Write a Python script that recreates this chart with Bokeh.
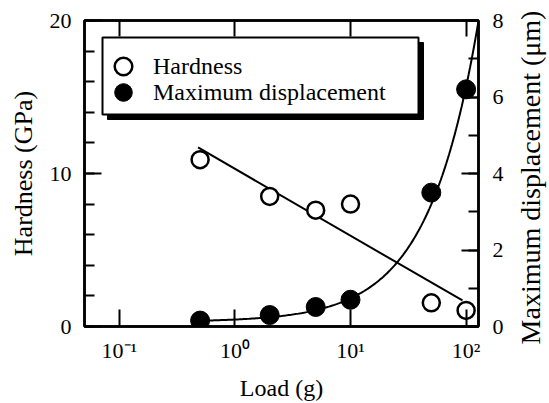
import math
import numpy as np
from bokeh.plotting import figure
from bokeh.models import (Range1d, LinearAxis, LogAxis, FixedTicker, SingleIntervalTicker,
                          CustomJSTickFormatter, Legend, LegendItem, BoxAnnotation, Label,
                          ColumnDataSource)
from bokeh.embed import file_html
from bokeh.resources import INLINE

# ---- data ----
load = [0.5, 2, 5, 10, 50, 100]
hardness = [10.9, 8.5, 7.6, 8.0, 1.55, 1.05]
displacement = [0.155, 0.30, 0.51, 0.70, 3.5, 6.2]

# fitted lines
hard_fit_load = [0.48, 93]
hard_fit_value = [11.7, 1.7]
disp_fit_intercept = 0.12
disp_fit_slope = 0.0615
disp_fit_range = [0.5, 128]

x_ticks = [0.1, 1, 10, 100]

FONT = "Liberation Serif"

FRAME_H = 309
p = figure(width=549, height=403, x_axis_type="log",
           x_range=Range1d(0.05, 128), y_range=Range1d(0, 20),
           output_backend="svg", toolbar_location=None,
           min_border_left=84, min_border_right=71, min_border_top=20, min_border_bottom=74)
p.extra_y_ranges = {"disp": Range1d(0, 8)}
p.grid.visible = False
p.outline_line_color = "black"
p.outline_line_width = 2.5
p.background_fill_color = "white"
p.border_fill_color = "white"

sup_code = """
const sup = {"-":"\u207b","0":"\u2070","1":"\u00b9","2":"\u00b2","3":"\u00b3","4":"\u2074",
             "5":"\u2075","6":"\u2076","7":"\u2077","8":"\u2078","9":"\u2079"};
const e = Math.round(Math.log10(tick));
return "10" + String(e).split("").map(c => sup[c]).join("");
"""

def style_axis(ax, tick_in=17):
    ax.axis_line_width = 2.5
    ax.axis_line_color = "black"
    ax.major_tick_in = tick_in
    ax.major_tick_out = 0
    ax.minor_tick_in = 10
    ax.minor_tick_out = 0
    ax.major_tick_line_width = 2
    ax.minor_tick_line_width = 2
    ax.major_label_text_font = FONT
    ax.major_label_text_font_size = "22px"
    ax.major_label_text_color = "black"
    ax.axis_label_text_font = FONT
    ax.axis_label_text_font_style = "normal"
    ax.axis_label_text_color = "black"

# bottom axis
xa = p.xaxis[0]
xa.ticker = FixedTicker(ticks=x_ticks, minor_ticks=[])
xa.formatter = CustomJSTickFormatter(code=sup_code)
style_axis(xa)
xa.major_label_standoff = 11
xa.axis_label = "Load (g)"
xa.axis_label_text_font_size = "24px"
xa.axis_label_standoff = 9

# left axis
ya = p.yaxis[0]
ya.ticker = SingleIntervalTicker(interval=10, num_minor_ticks=5)
style_axis(ya)
ya.major_label_standoff = 13
ya.axis_label = "Hardness (GPa)"
ya.axis_label_text_font_size = "26px"
ya.axis_label_standoff = 9

# top axis (ticks only)
top = LogAxis(ticker=FixedTicker(ticks=x_ticks, minor_ticks=[]),
              formatter=CustomJSTickFormatter(code="return ''"))
style_axis(top, tick_in=16)
p.add_layout(top, "above")

# right axis (title drawn as a rotated label reading bottom-to-top)
ra = LinearAxis(y_range_name="disp", ticker=SingleIntervalTicker(interval=2, num_minor_ticks=2))
style_axis(ra)
ra.major_label_standoff = 14
p.add_layout(ra, "right")

right_title = Label(x=24, y=149, x_units="screen", y_units="screen",
                    text="Maximum displacement (\u03bcm)", angle=math.pi / 2,
                    text_align="center", text_baseline="middle",
                    text_font=FONT, text_font_size="28px", text_color="black")
p.add_layout(right_title, "right")

# fit lines
p.line(hard_fit_load, hard_fit_value, line_color="black", line_width=2)
fit_x = np.geomspace(disp_fit_range[0], disp_fit_range[1], 200)
fit_y = disp_fit_intercept + disp_fit_slope * fit_x
p.line(fit_x, fit_y, line_color="black", line_width=2, y_range_name="disp")

# data
src = ColumnDataSource(dict(load=load, hardness=hardness, displacement=displacement))
r_h = p.scatter("load", "hardness", source=src, marker="circle", size=17,
                fill_color="white", line_color="black", line_width=2.5)
r_d = p.scatter("load", "displacement", source=src, marker="circle", size=19,
                fill_color="black", line_color="black", line_width=1, y_range_name="disp")

# legend box with shadow (screen units relative to frame bottom-left)
def sbox(l, r, t, b, **kw):
    return BoxAnnotation(left=l, right=r, top=t, bottom=b,
                         left_units="screen", right_units="screen",
                         top_units="screen", bottom_units="screen", **kw)

BOX_TOP = FRAME_H - 20
BOX_BOT = FRAME_H - 97
p.add_layout(sbox(23, 339, BOX_TOP - 5, BOX_BOT - 5, fill_color="black", fill_alpha=1,
                  line_color="black", line_alpha=1))
p.add_layout(sbox(18, 334, BOX_TOP, BOX_BOT, fill_color="white", fill_alpha=1,
                  line_color="black", line_width=2, line_alpha=1))

common = dict(orientation="vertical", glyph_width=44, glyph_height=44, padding=0, margin=0,
              label_standoff=8, label_text_font=FONT, label_text_font_size="24px",
              label_text_color="black", background_fill_alpha=0, border_line_alpha=0)
leg1 = Legend(items=[LegendItem(label="Hardness", renderers=[r_h])],
              location=(17, FRAME_H - 71), **common)
leg2 = Legend(items=[LegendItem(label="Maximum displacement", renderers=[r_d])],
              location=(17, FRAME_H - 97), **common)
p.add_layout(leg1, "center")
p.add_layout(leg2, "center")

open("out.html", "w").write(file_html(p, INLINE))
